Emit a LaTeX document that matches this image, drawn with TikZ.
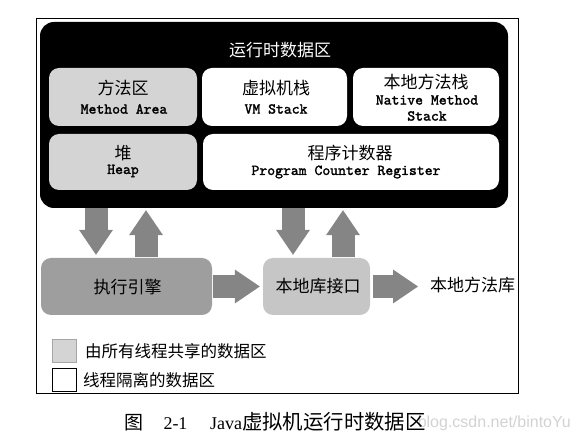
\documentclass[tikz,border=0pt]{standalone}
\usepackage{fontspec}
\setmainfont{Liberation Serif}
\newfontfamily\cjk{Noto Sans CJK SC}
\newfontfamily\monof{lmmono10-regular.otf}[FakeBold=1.8]
\newfontfamily\wmfont{Liberation Sans}
\usetikzlibrary{arrows.meta}
\definecolor{sharedgray}{HTML}{D4D4D4}
\definecolor{arrowgray}{HTML}{858585}
\definecolor{enginegray}{HTML}{9E9E9E}
\definecolor{jnigray}{HTML}{C6C6C6}
\definecolor{wmgray}{HTML}{D2D2D2}
\begin{document}
\begin{tikzpicture}[x=1pt,y=-1pt,
  area/.style={draw=none, rounded corners=10pt, inner sep=0pt},
  cnlabel/.style={font=\cjk\fontsize{17}{17}\selectfont, inner sep=0pt},
  enlabel/.style={font=\monof\fontsize{15}{15}\selectfont, inner sep=0pt},
  blockarrow/.style={draw=arrowgray, line width=23pt, -{Triangle[width=34pt,length=25pt,line width=0pt]}},
  legendtext/.style={font=\cjk\fontsize{16.5}{16.5}\selectfont, anchor=west, inner sep=0pt}
]
\useasboundingbox (0,0) rectangle (579,443);
% outer frame
\node[draw=black, line width=0.8pt, minimum width=482pt, minimum height=375pt, inner sep=0pt] (frame) at (277,205.5) {};
% runtime data area
\node[fill=black, rounded corners=14pt, minimum width=468pt, minimum height=186pt, inner sep=0pt] (rda) at (274,115) {};
\node[cnlabel, text=white] (rdatitle) at (280,50) {运行时数据区};
% sub areas
\node[area, fill=sharedgray, minimum width=148pt, minimum height=58pt] (method) at (123,97) {};
\node[area, fill=white, minimum width=145pt, minimum height=58pt] (vm) at (274.5,97) {};
\node[area, fill=white, minimum width=146pt, minimum height=58pt] (native) at (426,97) {};
\node[area, fill=sharedgray, minimum width=148pt, minimum height=56pt] (heap) at (123,162) {};
\node[area, fill=white, minimum width=296pt, minimum height=56pt] (pc) at (351,162) {};
% labels
\node[cnlabel] (methodcn) at (123,88) {方法区};
\node[enlabel] (methoden) at (124,109) {Method Area};
\node[cnlabel] (vmcn) at (276,88) {虚拟机栈};
\node[enlabel] (vmen) at (276,109) {VM Stack};
\node[cnlabel] (nativecn) at (426,82) {本地方法栈};
\node[enlabel] (nativeen) at (427,100) {Native Method};
\node[enlabel] (nativeen2) at (427,116) {Stack};
\node[cnlabel] (heapcn) at (123,153) {堆};
\node[enlabel] (heapen) at (123,171) {Heap};
\node[cnlabel] (pccn) at (350,153) {程序计数器};
\node[enlabel] (pcen) at (346,172) {Program Counter Register};
% engine and native interface
\node[area, fill=enginegray, minimum width=171pt, minimum height=57pt] (engine) at (126.5,286.5) {};
\node[cnlabel] (enginecn) at (127.5,287) {执行引擎};
\node[area, fill=jnigray, minimum width=107pt, minimum height=57pt] (jni) at (316.5,286.5) {};
\node[cnlabel] (jnicn) at (318,286) {本地库接口};
\node[cnlabel, anchor=west] (lib) at (430,285) {本地方法库};
% arrows
\coordinate (a1) at (96,0);
\coordinate (a2) at (146,0);
\coordinate (a3) at (293,0);
\coordinate (a4) at (343,0);
\draw[blockarrow, shorten >=3pt] (rda.south -| a1) -- (engine.north -| a1);
\draw[blockarrow, shorten <=1pt, shorten >=2pt] (engine.north -| a2) -- (rda.south -| a2);
\draw[blockarrow, shorten >=3pt] (rda.south -| a3) -- (jni.north -| a3);
\draw[blockarrow, shorten <=1pt, shorten >=2pt] (jni.north -| a4) -- (rda.south -| a4);
\draw[blockarrow, shorten <=1pt, shorten >=3pt] (engine.east) -- (jni.west);
\draw[blockarrow, shorten <=3pt, shorten >=12pt] (jni.east) -- (jni.east -| lib.west);
% legend
\node[fill=sharedgray, draw=gray!70, minimum width=24pt, minimum height=23pt, inner sep=0pt] (leg1) at (64,350.5) {};
\node[fill=white, draw=black, line width=0.8pt, minimum width=24pt, minimum height=23pt, inner sep=0pt] (leg2) at (64,379.5) {};
\node[legendtext] (leg1t) at (85,351) {由所有线程共享的数据区};
\node[legendtext] (leg2t) at (83,380) {线程隔离的数据区};
% watermark and caption
\node[font=\wmfont\fontsize{16}{16}\selectfont, text=wmgray, anchor=base east, inner sep=0pt] (wm) at (571,428) {blog.csdn.net/bintoYu};
\node[font=\cjk\fontsize{19}{19}\selectfont, anchor=base, inner sep=0pt] (capfig) at (133.5,430) {图};
\node[font=\fontsize{18}{18}\selectfont, anchor=base, inner sep=0pt] (capnum) at (175.5,430) {2-1};
\node[font=\fontsize{18}{18}\selectfont, anchor=base west, inner sep=0pt] (captext) at (210,430) {Java{\cjk\fontsize{20.4}{20.4}\selectfont 虚拟机运行时数据区}};
\end{tikzpicture}
\end{document}
